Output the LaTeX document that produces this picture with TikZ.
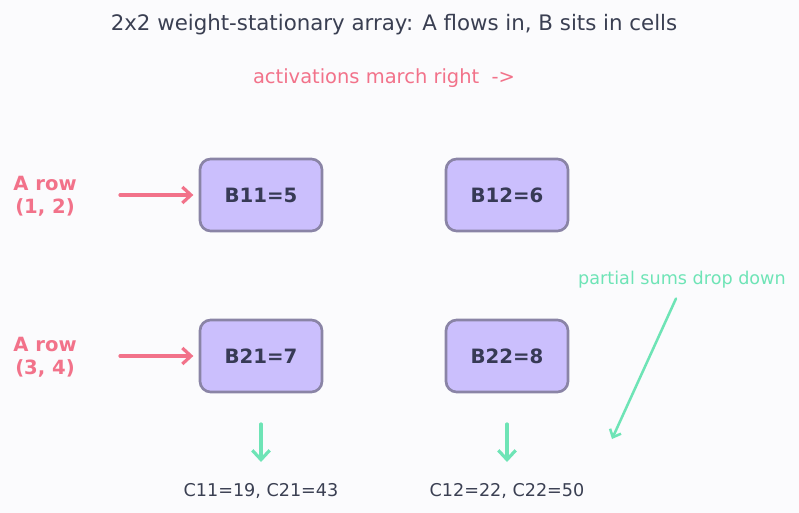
\documentclass[tikz,border=0pt]{standalone}
\usepackage{fontspec}
\setmainfont{DejaVu Sans}
\usetikzlibrary{arrows.meta}
\definecolor{bg}{HTML}{FBFBFD}
\definecolor{ink}{HTML}{3A3F52}
\definecolor{pinkc}{HTML}{F2728A}
\definecolor{greenc}{HTML}{6EE4B6}
\definecolor{cellfill}{HTML}{CBBFFD}
\definecolor{celldraw}{HTML}{8A84A6}
\definecolor{celltext}{HTML}{373A55}
\tikzset{
  cell/.style={draw=celldraw, fill=cellfill, line width=2pt, rounded corners=8pt,
    minimum width=91.5pt, minimum height=54pt, inner sep=0pt,
    text=celltext, font=\fontsize{14.8}{16}\selectfont\bfseries},
  rowlabel/.style={text=pinkc, align=center, font=\fontsize{14.7}{17}\selectfont\bfseries},
  feed/.style={draw=pinkc, line width=2.4pt, line cap=round, -{Straight Barb[length=6.5pt,width=12pt,line width=2.4pt]}},
  drop/.style={draw=greenc, line width=2.4pt, line cap=round, -{Straight Barb[length=7pt,width=13pt,line width=2.4pt]}},
  thin/.style={draw=greenc, line width=1.9pt, line cap=round, -{Straight Barb[length=5pt,width=9pt,line width=1.9pt]}},
  result/.style={text=ink, font=\fontsize{13.2}{15}\selectfont},
}
\begin{document}
\begin{tikzpicture}[x=0.75pt,y=-0.75pt]
\fill[bg] (0,0) rectangle (799,513);
\useasboundingbox (0,0) rectangle (799,513);
\node[text=ink, font=\fontsize{16}{18}\selectfont] (title) at (394,25) {2x2 weight-stationary array: A flows in, B sits in cells};
\node[text=pinkc, font=\fontsize{14.6}{16}\selectfont] (act) at (384,78) {activations march right\ \ ->};
\node[cell] (b11) at (261,195) {B11=5};
\node[cell] (b12) at (507,195) {B12=6};
\node[cell] (b21) at (261,356) {B21=7};
\node[cell] (b22) at (507,356) {B22=8};
\node[rowlabel] (a1) at (45,196) {A row\\(1, 2)};
\node[rowlabel] (a2) at (45,357) {A row\\(3, 4)};
\coordinate (s1) at (120,195);
\coordinate (s2) at (120,356);
\draw[feed, shorten >=4pt] (s1) -- (b11.west);
\draw[feed, shorten >=4pt] (s2) -- (b21.west);
\coordinate (d1s) at (261,424);
\coordinate (d1e) at (261,462);
\coordinate (d2s) at (507,424);
\coordinate (d2e) at (507,462);
\draw[drop] (d1s) -- (d1e);
\draw[drop] (d2s) -- (d2e);
\node[result] (c1) at (261,491) {C11=19, C21=43};
\node[result] (c2) at (507,491) {C12=22, C22=50};
\node[text=greenc, font=\fontsize{13.2}{15}\selectfont] (ps) at (682,280) {partial sums drop down};
\coordinate (pe) at (612,439);
\draw[thin] ([xshift=-4.5pt,yshift=-4pt]ps.south) -- (pe);
\end{tikzpicture}
\end{document}
